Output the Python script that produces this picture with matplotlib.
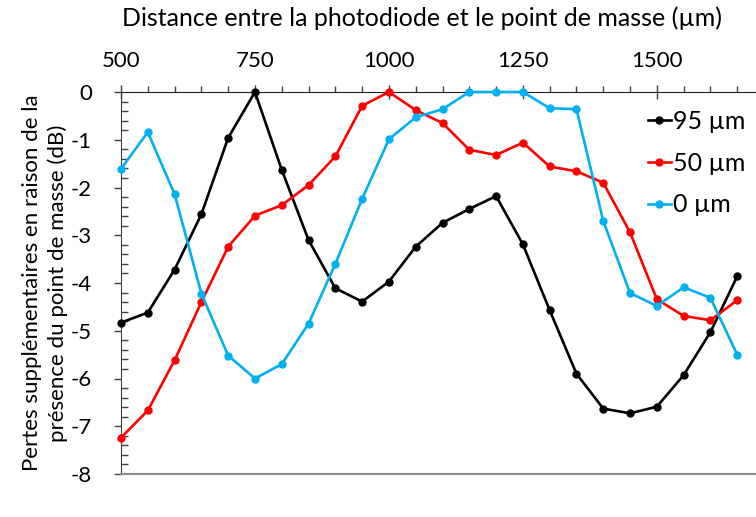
import matplotlib.pyplot as plt
from matplotlib.ticker import MultipleLocator

plt.rcParams['font.family'] = ['Lato', 'DejaVu Sans']
plt.rcParams['axes.unicode_minus'] = False

distance = [500, 550, 600, 650, 700, 750, 800, 850, 900, 950, 1000, 1050,
            1100, 1150, 1200, 1250, 1300, 1350, 1400, 1450, 1500, 1550, 1600, 1650]

loss_95 = [-4.83, -4.62, -3.72, -2.56, -0.96, 0.0, -1.63, -3.10, -4.11, -4.39, -3.97, -3.24,
           -2.74, -2.45, -2.18, -3.19, -4.57, -5.90, -6.63, -6.73, -6.59, -5.93, -5.03, -3.86]
loss_50 = [-7.24, -6.67, -5.62, -4.40, -3.24, -2.59, -2.37, -1.95, -1.35, -0.29, 0.0, -0.38,
           -0.65, -1.21, -1.32, -1.06, -1.56, -1.66, -1.90, -2.94, -4.34, -4.69, -4.78, -4.36]
loss_0 = [-1.61, -0.84, -2.14, -4.22, -5.52, -6.00, -5.70, -4.85, -3.60, -2.24, -0.99, -0.53,
          -0.36, 0.0, 0.0, 0.0, -0.34, -0.36, -2.70, -4.21, -4.48, -4.09, -4.31, -5.50]

labels = ["95 µm", "50 µm", "0 µm"]
colors = ["#000000", "#ff0000", "#00b0f0"]

W, H = 756, 517
fig = plt.figure(figsize=(W / 100, H / 100), dpi=100)
# plot area: x=500 at 121 px, 0.536 px per µm; y=0 at 92 px, y=-8 at 474 px
ax = fig.add_axes([121 / W, 1 - 474 / H, 643 / W, 382 / H])

for ys, lab, c in zip([loss_95, loss_50, loss_0], labels, colors):
    ax.plot(distance, ys, color=c, lw=1.9, marker="o", markersize=5, label=lab,
            clip_on=False, zorder=3)

ax.set_xlim(500, 1700)
ax.set_ylim(-8, 0)

ax.xaxis.tick_top()
ax.xaxis.set_label_position("top")
ax.xaxis.set_major_locator(MultipleLocator(250))
ax.xaxis.set_minor_locator(MultipleLocator(50))
ax.yaxis.set_major_locator(MultipleLocator(1))
ax.yaxis.set_minor_locator(MultipleLocator(0.2))

ax.tick_params(axis="x", which="major", direction="inout", length=10, width=1,
               labelsize=16, pad=10, color="#404040")
ax.tick_params(axis="x", which="minor", direction="out", length=4.5, width=1, color="#404040")
ax.tick_params(axis="y", which="major", direction="out", length=5, width=1,
               labelsize=16, pad=16, color="#404040")
ax.tick_params(axis="y", which="minor", direction="in", length=5, width=1, color="#404040")

ax.spines["right"].set_visible(False)
ax.spines["top"].set_color("#202020")
ax.spines["left"].set_color("#404040")
ax.spines["bottom"].set_color("#8c8c8c")
ax.spines["bottom"].set_linewidth(1.5)

ax.set_xlabel("Distance entre la photodiode et le point de masse (µm)", fontsize=18)
ax.xaxis.set_label_coords(0.468, 1 + (92 - 6) / 382, transform=ax.transAxes)
ax.xaxis.label.set_va("top")
ax.set_ylabel("Pertes supplémentaires en raison de la\nprésence du point de masse (dB)",
              fontsize=16, linespacing=1.35)
ax.yaxis.set_label_coords(-(121 - 68) / 643, 0.5)

ax.legend(loc="upper left", bbox_to_anchor=(648 / W, 1 - 110 / H),
          bbox_transform=fig.transFigure, frameon=False, fontsize=18,
          handlelength=0.9, handletextpad=0.1, labelspacing=0.75, borderaxespad=0,
          borderpad=0)

fig.savefig("out.png", dpi=100)
